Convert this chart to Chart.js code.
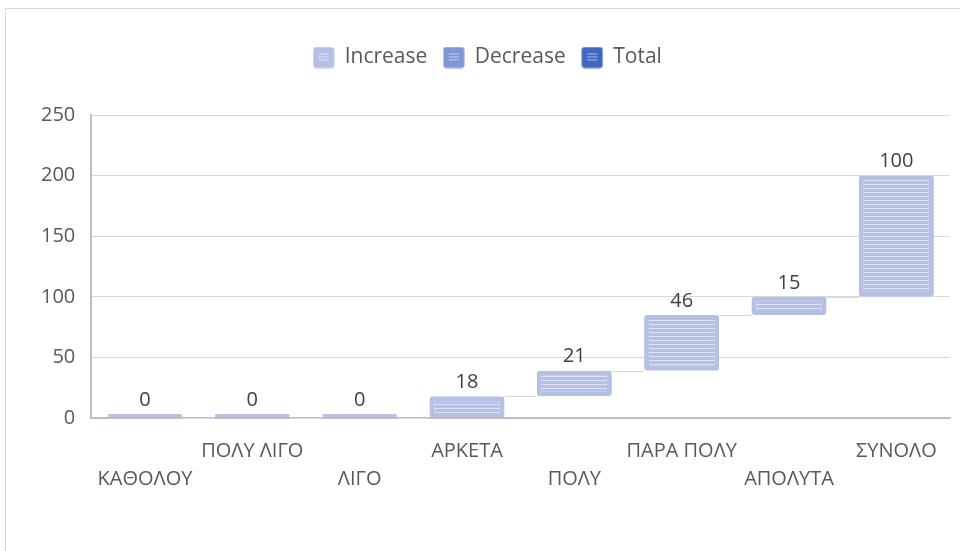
<!DOCTYPE html>
<html>
<head>
<meta charset="utf-8">
<script src="https://cdn.jsdelivr.net/npm/chart.js@4.4.0/dist/chart.umd.min.js"></script>
<style>
  html, body { margin: 0; padding: 0; background: #fff; }
  #frame { position: absolute; left: 5px; top: 8px; width: 960px; height: 560px; border: 1px solid #d9d9d9; box-sizing: border-box; }
  #wrap { position: absolute; left: 0; top: 0; width: 960px; height: 551px; }
</style>
</head>
<body>
<div id="frame"></div>
<div id="wrap"><canvas id="waterfall"></canvas></div>
<script>
const categories = ["ΚΑΘΟΛΟΥ", "ΠΟΛΥ ΛΙΓΟ", "ΛΙΓΟ", "ΑΡΚΕΤΑ", "ΠΟΛΥ", "ΠΑΡΑ ΠΟΛΥ", "ΑΠΟΛΥΤΑ", "ΣΥΝΟΛΟ"];
const values = [0, 0, 0, 18, 21, 46, 15, 100];
const legendNames = ["Increase", "Decrease", "Total"];
const legendColors = ["#b4c1e4", "#7f97d8", "#4068c0"];

// waterfall: each step floats on the running sum (the total as well, like the original)
let running = 0;
const floating = values.map(v => {
  const seg = [running, running + v];
  running += v;
  return seg;
});

Chart.defaults.font.family = '"Open Sans", sans-serif';
Chart.defaults.color = '#595959';

const canvas = document.getElementById("waterfall");

function stripes(color, light) {
  const c = document.createElement("canvas");
  c.width = 4; c.height = 4;
  const g = c.getContext("2d");
  g.fillStyle = color; g.fillRect(0, 0, 4, 4);
  g.fillStyle = light; g.fillRect(0, 0, 4, 1);
  return canvas.getContext("2d").createPattern(c, "repeat");
}

function legendIcon(color) {
  const c = document.createElement("canvas");
  c.width = 22; c.height = 22;
  const g = c.getContext("2d");
  g.fillStyle = color;
  g.beginPath(); g.roundRect(0.5, 0.5, 21, 21, 3); g.fill();
  g.strokeStyle = "rgba(255,255,255,0.55)";
  g.lineWidth = 1;
  [7.5, 10.5, 13.5].forEach(y => {
    g.beginPath(); g.moveTo(6, y); g.lineTo(16, y); g.stroke();
  });
  return c;
}
const icons = legendColors.map(legendIcon);

const legendGap = {
  id: "legendGap",
  beforeInit(chart) {
    const fit = chart.legend.fit;
    chart.legend.fit = function () {
      fit.bind(chart.legend)();
      this.height += 37;
    };
  }
};

const connectors = {
  id: "connectors",
  beforeDatasetsDraw(chart) {
    const ctx = chart.ctx;
    const meta = chart.getDatasetMeta(0);
    const y = chart.scales.y;
    ctx.save();
    ctx.strokeStyle = "#d9d9d9";
    ctx.lineWidth = 1;
    for (let i = 0; i < meta.data.length - 1; i++) {
      const a = meta.data[i], b = meta.data[i + 1];
      const py = Math.round(y.getPixelForValue(floating[i][1])) + 0.5;
      ctx.beginPath();
      ctx.moveTo(a.x + a.width / 2, py);
      ctx.lineTo(b.x - b.width / 2, py);
      ctx.stroke();
    }
    ctx.restore();
  }
};

const barLabels = {
  id: "barLabels",
  afterDatasetsDraw(chart) {
    const ctx = chart.ctx;
    const meta = chart.getDatasetMeta(0);
    ctx.save();
    ctx.font = '20px "Open Sans"';
    ctx.fillStyle = "#404040";
    ctx.textAlign = "center";
    ctx.textBaseline = "bottom";
    meta.data.forEach((bar, i) => {
      const top = Math.min(bar.y, bar.base);
      ctx.fillText(values[i], bar.x, top - 4);
    });
    ctx.restore();
  }
};

new Chart(canvas, {
  type: "bar",
  data: {
    labels: categories,
    datasets: [{
      label: "Increase",
      data: floating,
      backgroundColor: stripes("#b4c1e4", "#dde3f4"),
      borderColor: "#b4c1e4",
      borderWidth: 5,
      borderRadius: 3,
      borderSkipped: false,
      minBarLength: 4,
      barPercentage: 0.7,
      categoryPercentage: 1
    }]
  },
  options: {
    responsive: true,
    maintainAspectRatio: false,
    animation: false,
    layout: { padding: { left: 25, right: 10, top: 31, bottom: 39 } },
    plugins: {
      tooltip: { enabled: false },
      legend: {
        position: "top",
        onClick: null,
        labels: {
          usePointStyle: true,
          padding: 16,
          font: { size: 21 },
          color: "#595959",
          generateLabels: () => legendNames.map((name, i) => ({
            text: name,
            pointStyle: icons[i],
            fillStyle: legendColors[i],
            strokeStyle: "transparent",
            lineWidth: 0,
            hidden: false,
            fontColor: "#595959"
          }))
        }
      }
    },
    scales: {
      x: {
        grid: { display: false, drawTicks: false },
        border: { display: true, color: "#bfbfbf", width: 2 },
        ticks: {
          autoSkip: false,
          maxRotation: 0,
          padding: 19,
          font: { size: 20, lineHeight: 1.4 },
          color: "#595959",
          callback: (v, i) => i % 2 ? [categories[i], ""] : ["", categories[i]]
        }
      },
      y: {
        min: 0,
        max: 250,
        grid: { color: "#d9d9d9", drawTicks: false },
        border: { display: true, color: "#bfbfbf", width: 2 },
        ticks: { stepSize: 50, padding: 16, font: { size: 20 }, color: "#595959" }
      }
    }
  },
  plugins: [legendGap, connectors, barLabels]
});
</script>
</body>
</html>
